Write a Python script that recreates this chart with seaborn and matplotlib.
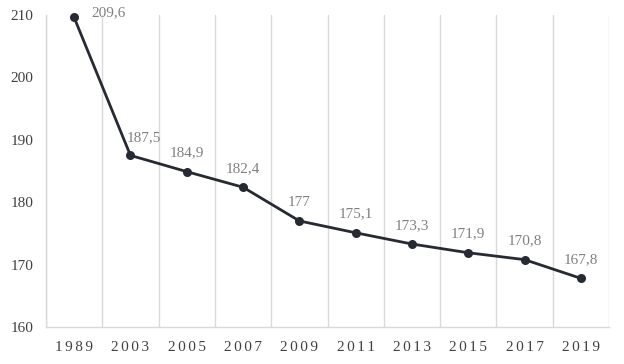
import numpy as np
import pandas as pd
import matplotlib
matplotlib.use("Agg")
import matplotlib.pyplot as plt
import seaborn as sns
from matplotlib.ticker import MultipleLocator

# %%
years = ["1989", "2003", "2005", "2007", "2009", "2011", "2013", "2015", "2017", "2019"]
values = [209.6, 187.5, 184.9, 182.4, 177, 175.1, 173.3, 171.9, 170.8, 167.8]
labels = ["209,6", "187,5", "184,9", "182,4", "177", "175,1", "173,3", "171,9", "170,8", "167,8"]

df = pd.DataFrame({"year": years, "value": values})

# %%
sns.set_style("white")
plt.rcParams["font.family"] = ["Liberation Serif", "DejaVu Serif"]

fig = plt.figure(figsize=(6.24, 3.64), dpi=100)
ax = fig.add_axes([0.0737, 0.1016, 0.9023, 0.8572])

line_col = "#262a33"
grid_col = "#d9d9d9"

sns.pointplot(
    data=df,
    x="year",
    y="value",
    color=line_col,
    markers="o",
    linestyles="-",
    ax=ax,
)
for l in ax.lines:
    l.set_linewidth(2.0)
    l.set_markersize(6.5)
    l.set_markeredgewidth(0)
    l.set_clip_on(False)
    l.set_zorder(3)

ax.set_xlim(-0.5, len(years) - 0.5)
ax.set_ylim(160, 210)

# vertical gridlines between categories
for b in np.arange(-0.5, len(years), 1.0):
    ax.axvline(b, color=grid_col, lw=1.0, zorder=0)

ax.yaxis.set_major_locator(MultipleLocator(10))
ax.yaxis.set_minor_locator(MultipleLocator(5))
ax.tick_params(axis="y", which="both", direction="in", length=4, color=grid_col,
               labelsize=11, labelcolor="#404040", pad=9)
ax.tick_params(axis="x", length=0, labelsize=11, labelcolor="#404040", pad=10)

# spread digits like the original
ax.set_xticks(range(len(years)))
ax.set_xticklabels(["\u2006".join(y) for y in years])

for side in ["top", "right"]:
    ax.spines[side].set_visible(False)
for side in ["left", "bottom"]:
    ax.spines[side].set_color(grid_col)
    ax.spines[side].set_linewidth(1.0)

ax.set_xlabel("")
ax.set_ylabel("")

# data labels (first two nudged off the line, as in the original)
offsets = [(24.5, 3.5), (10, 13), (0, 13.5), (0, 13.5), (0, 13.5), (0, 13.5),
           (0, 13.5), (0, 13.5), (0, 13.5), (0, 13.5)]
for i, (v, t) in enumerate(zip(values, labels)):
    dx, dy = offsets[i]
    ax.annotate(t, (i, v), xytext=(dx, dy), textcoords="offset points",
                ha="center", va="center", fontsize=11, color="#808080")

fig.savefig("out.png", dpi=100)
